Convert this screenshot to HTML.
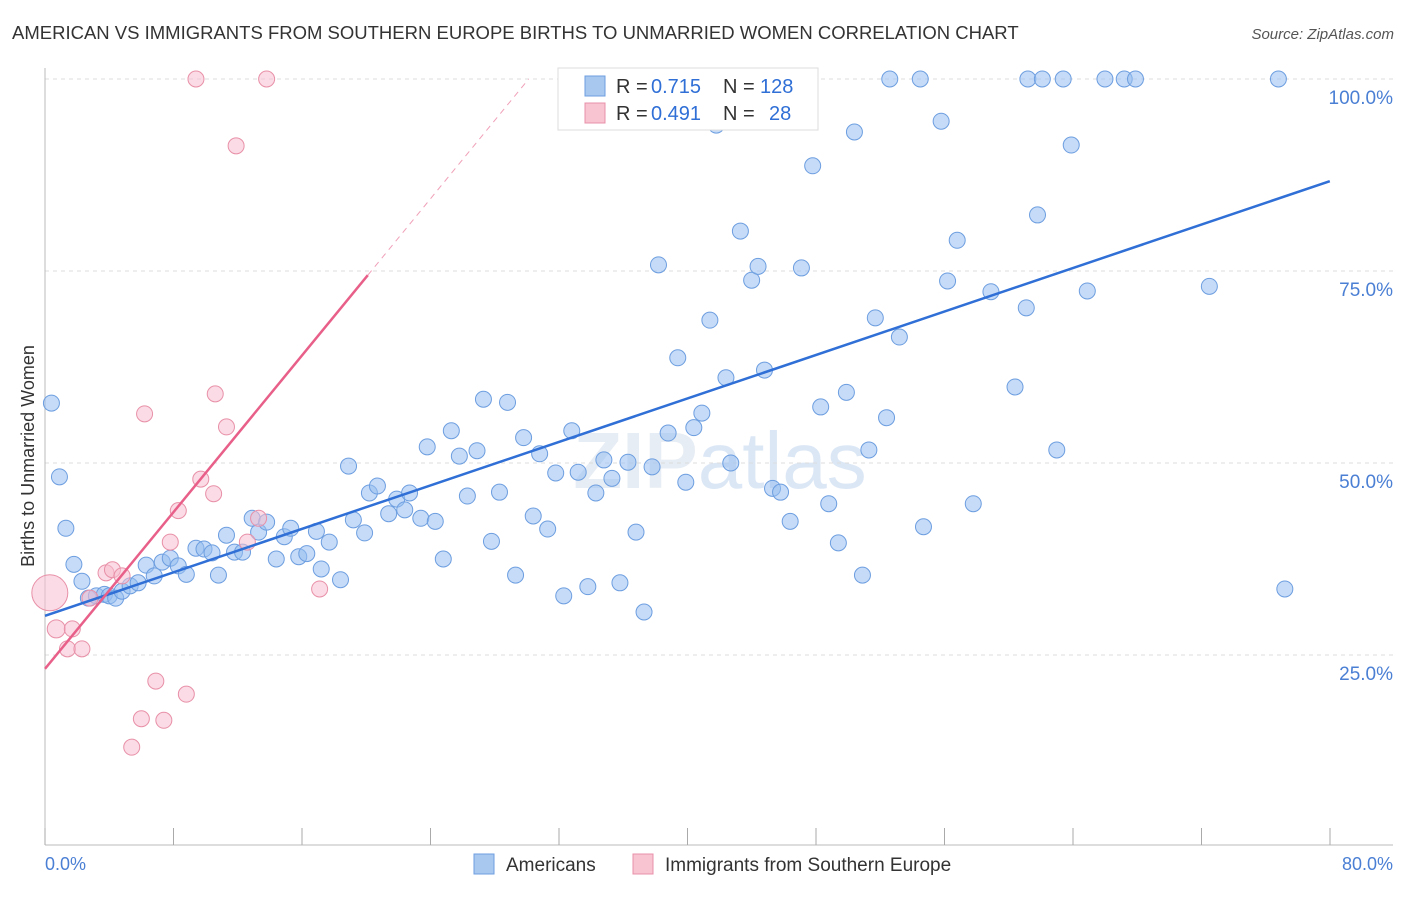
<!DOCTYPE html>
<html><head><meta charset="utf-8"><style>
body{margin:0;background:#fff;font-family:"Liberation Sans",sans-serif}
svg text{font-family:"Liberation Sans",sans-serif}
</style></head><body>
<svg id="chart" width="1406" height="892">
<text x="12" y="39" font-size="18.5" fill="#333">AMERICAN VS IMMIGRANTS FROM SOUTHERN EUROPE BIRTHS TO UNMARRIED WOMEN CORRELATION CHART</text>
<text x="1394" y="39" font-size="15" fill="#555" font-style="italic" text-anchor="end">Source: ZipAtlas.com</text>
<text x="720" y="488" font-size="80" fill="#d8e2ee" text-anchor="middle" font-weight="bold" opacity="0.6">ZIP<tspan font-weight="normal" fill="#c5d8f0">atlas</tspan></text>
<g id="grid"></g><g id="marks"></g><g id="trend"></g>
<text transform="translate(34,456) rotate(-90)" font-size="18" fill="#333" text-anchor="middle">Births to Unmarried Women</text>
<text x="45" y="870" font-size="18" fill="#4a7fd4">0.0%</text>
<text x="1393" y="870" font-size="18" fill="#4a7fd4" text-anchor="end">80.0%</text>
<g>
<rect x="558" y="68" width="260" height="62" fill="#fff" stroke="#ddd"/>
<rect x="585" y="76" width="20" height="20" fill="#a9c8f0" stroke="#6d9ee0"/>
<text x="616" y="93" font-size="20" fill="#333">R =</text>
<text x="651" y="93" font-size="20" fill="#2f6fd6">0.715</text>
<text x="723" y="93" font-size="20" fill="#333">N =</text>
<text x="760" y="93" font-size="20" fill="#2f6fd6">128</text>
<rect x="585" y="103" width="20" height="20" fill="#f8c4d2" stroke="#e890a8"/>
<text x="616" y="120" font-size="20" fill="#333">R =</text>
<text x="651" y="120" font-size="20" fill="#2f6fd6">0.491</text>
<text x="723" y="120" font-size="20" fill="#333">N =</text>
<text x="769" y="120" font-size="20" fill="#2f6fd6">28</text>
</g>
<g>
<rect x="474" y="854" width="20" height="20" fill="#a9c8f0" stroke="#6d9ee0"/>
<text x="506" y="871" font-size="19" fill="#333">Americans</text>
<rect x="633" y="854" width="20" height="20" fill="#f8c4d2" stroke="#e890a8"/>
<text x="665" y="871" font-size="19" fill="#333">Immigrants from Southern Europe</text>
</g>
</svg>
<script>
const blueX=[0.4,0.9,1.3,1.8,2.3,2.7,3.2,3.7,4.0,4.4,4.8,5.3,5.8,6.3,6.8,7.3,7.8,8.3,8.8,9.4,9.9,10.4,10.8,11.3,11.8,12.3,12.9,13.3,13.8,14.4,14.9,15.3,15.8,16.3,16.9,17.2,17.7,18.4,18.9,19.2,19.9,20.2,20.7,21.4,21.9,22.4,22.7,23.4,23.8,24.3,24.8,25.3,25.8,26.3,26.9,27.3,27.8,28.3,28.8,29.3,29.8,30.4,30.8,31.3,31.8,32.3,32.8,33.2,33.8,34.3,34.8,35.3,35.8,36.3,36.8,37.3,37.8,38.2,38.8,39.4,39.9,40.4,40.9,41.4,41.8,42.4,42.7,43.3,44.0,44.4,44.8,45.3,45.8,46.4,47.1,47.8,48.3,48.8,49.4,49.9,50.4,50.9,51.3,51.7,52.4,52.6,53.2,54.5,54.7,55.8,56.2,56.8,57.8,58.9,60.4,61.1,61.2,61.8,62.1,63.0,63.4,63.9,64.9,66.0,67.2,67.9,72.5,76.8,77.2];
const blueY=[57.8,48.2,41.5,36.8,34.6,32.4,32.7,32.9,32.7,32.4,33.3,34.0,34.4,36.7,35.3,37.1,37.6,36.6,35.5,38.9,38.8,38.3,35.4,40.6,38.4,38.4,42.8,41.0,42.3,37.5,40.4,41.5,37.8,38.2,41.1,36.2,39.7,34.8,49.6,42.6,40.9,46.1,47.0,43.4,45.3,43.9,46.1,42.8,52.1,42.4,37.5,54.2,50.9,45.7,51.6,58.3,39.8,46.2,57.9,35.4,53.3,43.1,51.2,41.4,48.7,32.7,54.2,48.8,33.9,46.1,50.4,48.0,34.4,50.1,41.0,30.6,49.5,75.8,53.9,63.7,47.5,54.6,56.5,68.6,94.0,61.1,50.0,80.2,73.8,75.6,62.1,46.7,46.2,42.4,75.4,88.7,57.3,44.7,39.6,59.2,93.1,35.4,51.7,68.9,55.9,100,66.4,100,41.7,94.5,73.7,79.0,44.7,72.3,59.9,70.2,100,82.3,100,51.7,100,91.4,72.4,100,100,100,73.0,100,33.6];
const pinkX=[0.3,0.7,1.4,1.7,2.3,2.8,3.8,4.2,4.8,5.4,6.0,6.2,6.9,7.4,7.8,8.3,8.8,9.4,9.7,10.5,10.6,11.3,11.9,12.6,13.3,13.8,17.1];
const pinkY=[33.1,28.4,25.8,28.4,25.8,32.4,35.7,36.1,35.3,13.0,16.7,56.4,21.6,16.5,39.7,43.8,19.9,100,47.9,46.0,59.0,54.7,91.3,39.7,42.8,100,33.6];
const pinkR=[18,9,8,8,8,8,8,8,8,8,8,8,8,8,8,8,8,8,8,8,8,8,8,8,8,8,8];
const yTicks=[25,50,75,100];
const yTickLabels=["25.0%","50.0%","75.0%","100.0%"];
const xTicks=[0,10,20,30,40,50,60,70,80,90,100];
const blueTrend=[30.1,86.7];
const pinkTrend=[23.2,2.55];
const NS="http://www.w3.org/2000/svg";
const sx=v=>45+v*16.06, sy=v=>847-v*7.68;
function mk(t,a,p){const e=document.createElementNS(NS,t);for(const k in a)e.setAttribute(k,a[k]);p.appendChild(e);return e;}
const grid=document.getElementById('grid'),marks=document.getElementById('marks'),trend=document.getElementById('trend');
yTicks.forEach((v,i)=>{
 const l=mk('line',{x1:45,x2:1393,y1:sy(v),y2:sy(v),stroke:'#ddd','stroke-dasharray':'4,4'},grid);
 
 
 const t=mk('text',{x:1393,y:sy(v)+25,'font-size':19,fill:'#4a7fd4','text-anchor':'end'},grid);
 t.textContent=yTickLabels[i];
 
 
});
const ax=mk('line',{x1:45,x2:45,y1:68,y2:845,stroke:'#bbb'},grid);


const bx=mk('line',{x1:45,x2:1393,y1:845,y2:845,stroke:'#bbb'},grid);


xTicks.forEach(v=>{const x=45+v*12.85;const t=mk('line',{x1:x,x2:x,y1:828,y2:845,stroke:'#aaa'},grid);
 
 });
blueX.forEach((x,i)=>{const c=mk('circle',{cx:sx(x),cy:sy(blueY[i]),r:8,fill:'rgba(150,190,240,0.55)',stroke:'#6d9ee0','stroke-width':1},marks);
 
 });
pinkX.forEach((x,i)=>{const c=mk('circle',{cx:sx(x),cy:sy(pinkY[i]),r:pinkR[i],fill:'rgba(248,190,208,0.55)',stroke:'#e890a8','stroke-width':1},marks);
 
 });
const bl=mk('line',{x1:sx(0),y1:sy(blueTrend[0]),x2:sx(80),y2:sy(blueTrend[1]),stroke:'#2f6fd6','stroke-width':2.5},trend);


const pe=20.1, pd=(100-pinkTrend[0])/pinkTrend[1];
const pl=mk('line',{x1:sx(0),y1:sy(pinkTrend[0]),x2:sx(pe),y2:sy(pinkTrend[0]+pinkTrend[1]*pe),stroke:'#e8608a','stroke-width':2.5},trend);


const pdl=mk('line',{x1:sx(pe),y1:sy(pinkTrend[0]+pinkTrend[1]*pe),x2:sx(pd),y2:sy(100),stroke:'#f0a0b8','stroke-width':1,'stroke-dasharray':'6,5'},trend);


</script>
</body></html>
